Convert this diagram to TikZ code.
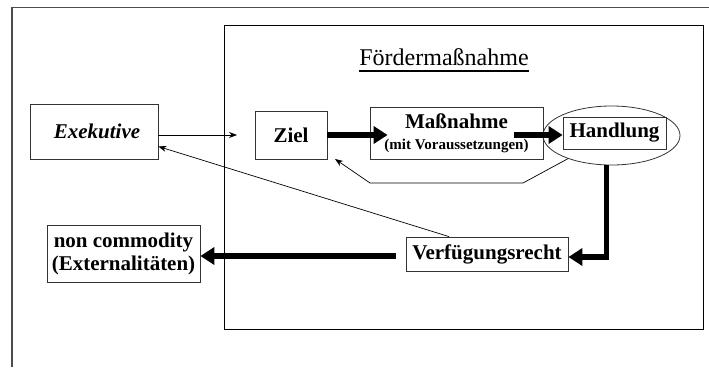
\documentclass[tikz,border=0pt]{standalone}
\usepackage{fontspec}
\setmainfont{Liberation Serif}
\usetikzlibrary{arrows.meta,shapes.geometric,calc}
\begin{document}
\begin{tikzpicture}[x=1pt,y=-1pt,
  box/.style={draw=black!80, line width=0.8pt, inner sep=0pt, align=center,
    font=\fontsize{21}{23}\selectfont\bfseries},
  thinarrow/.style={line width=0.7pt, -{Stealth[length=8pt,width=6pt]}},
  thickarrow/.style={line width=6pt, -{Triangle[length=14pt,width=17pt]}},
  frame/.style={draw=black!85, line width=1pt}]
\useasboundingbox (0,0) rectangle (709,367);
% outer frame (open at right and bottom)
\draw[frame, draw=black!70, line width=1.3pt] (12,367) -- (12,7.5) -- (709,7.5);
% inner rectangle
\node[draw=black, line width=0.9pt, minimum width=479pt, minimum height=304pt, inner sep=0pt] (inner) at (463.5,177) {};
% title
\node[inner sep=0pt, font=\fontsize{24}{26}\selectfont] (title) at (444,57) {Fördermaßnahme};
\draw[line width=1.8pt] ([yshift=-6pt]title.base west) -- ([yshift=-6pt]title.base east);
% nodes
\node[box, font=\fontsize{21}{23}\selectfont\bfseries\itshape, minimum width=128pt, minimum height=55pt] (exe) at (94,131.5) {\hspace*{6pt}Exekutive};
\node[box, minimum width=72pt, minimum height=48pt] (ziel) at (291,135) {Ziel};
\node[box, minimum width=173pt, minimum height=52pt] (mass) at (456.5,133) {Maßnahme\\[-2pt]{\fontsize{15}{16}\selectfont (mit Voraussetzungen)}};
\node[draw=black!80, line width=0.8pt, ellipse, minimum width=137pt, minimum height=59pt, inner sep=0pt] (hell) at (611.5,135.5) {};
\node[box, minimum width=103pt, minimum height=32pt] (hand) at (614.5,133) {Handlung};
\node[box, minimum width=153pt, minimum height=57pt] (ncom) at (123.5,253.5) {non commodity\\(Externalitäten)};
\node[box, minimum width=162pt, minimum height=34pt] (verf) at (487,254) {Verfügungsrecht};
% free ends
\coordinate (exetip) at (237,135);
\coordinate (c1) at (523,183);
\coordinate (c2) at (370,183);
\coordinate (ziettip) at (335,159);
% connectors
\draw[thinarrow] ([yshift=-3.5pt]exe.east) -- (exetip);
\draw[thickarrow] (ziel.east |- 0,135) -- ([xshift=18pt,yshift=-2pt]mass.west);
\draw[thickarrow] ([xshift=-29pt,yshift=-2pt]mass.east) -- ([yshift=-2pt]hand.west);
\draw[thinarrow] (hell.208) -- (c1) -- (c2) -- (ziettip);
\draw[thinarrow] ([xshift=-38pt]verf.north) -- ([yshift=-15pt]exe.east);
\draw[line width=5.5pt, -{Triangle[length=14pt,width=17pt]}] ([xshift=-5pt]hell.south) |- ([yshift=-3pt]verf.east);
\draw[thickarrow] ([xshift=-10pt,yshift=-2pt]verf.west) -- ([yshift=-2.5pt]ncom.east);
\end{tikzpicture}
\end{document}
